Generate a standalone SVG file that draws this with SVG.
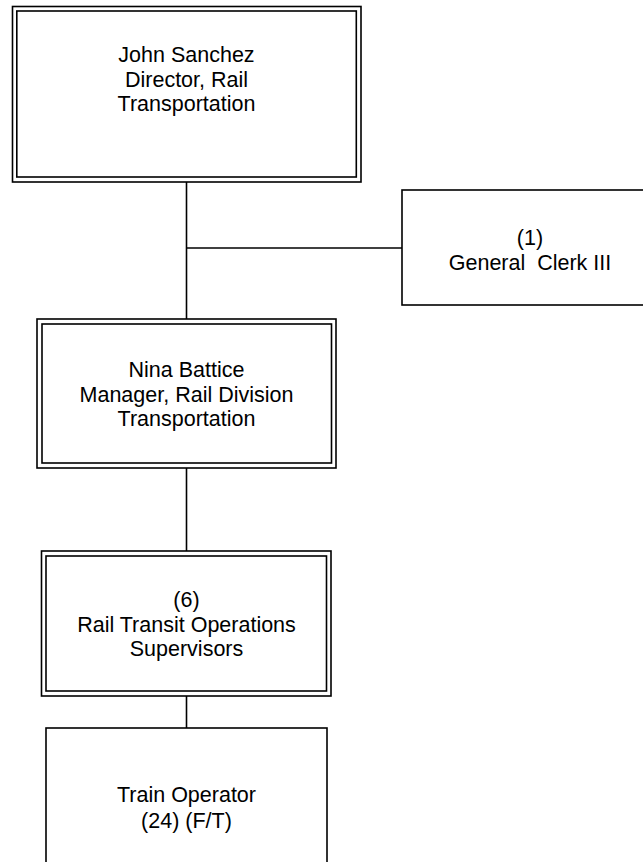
<svg xmlns="http://www.w3.org/2000/svg" width="643" height="862" viewBox="0 0 643 862">
<style>
.b{fill:none;stroke:#000;stroke-width:1.6}
.c{fill:none;stroke:#000;stroke-width:1.6}
text{font-family:"Liberation Sans",Arial,sans-serif;font-size:21.5px;fill:#000;text-anchor:middle;white-space:pre}
</style>
<rect width="643" height="862" fill="#fff"/>
<g id="connectors">
<line class="c" x1="186.5" y1="182" x2="186.5" y2="319"/>
<line class="c" x1="186.5" y1="248" x2="402" y2="248"/>
<line class="c" x1="186.5" y1="468" x2="186.5" y2="551"/>
<line class="c" x1="186.5" y1="696" x2="186.5" y2="728"/>
</g>
<g id="john">
<rect class="b" x="12.5" y="6.5" width="348.5" height="175.5"/>
<rect class="b" x="16.8" y="11" width="339.5" height="166"/>
<text x="186.5" y="62">John Sanchez</text>
<text x="186.5" y="86.5">Director, Rail</text>
<text x="186.5" y="111">Transportation</text>
</g>
<g id="clerk">
<rect class="b" x="402" y="190" width="245" height="115"/>
<text x="530" y="245">(1)</text>
<text x="530" y="270">General  Clerk III</text>
</g>
<g id="nina">
<rect class="b" x="37" y="319" width="299" height="149"/>
<rect class="b" x="42" y="324" width="289.5" height="139"/>
<text x="186.5" y="377">Nina Battice</text>
<text x="186.5" y="401.5">Manager, Rail Division</text>
<text x="186.5" y="426">Transportation</text>
</g>
<g id="supervisors">
<rect class="b" x="41.5" y="551" width="289.5" height="145"/>
<rect class="b" x="46" y="556" width="280.5" height="135"/>
<text x="186.5" y="607">(6)</text>
<text x="186.5" y="631.5">Rail Transit Operations</text>
<text x="186.5" y="656">Supervisors</text>
</g>
<g id="operator">
<rect class="b" x="46" y="728" width="281" height="140"/>
<text x="186.5" y="802">Train Operator</text>
<text x="186.5" y="827.5">(24) (F/T)</text>
</g>
</svg>
